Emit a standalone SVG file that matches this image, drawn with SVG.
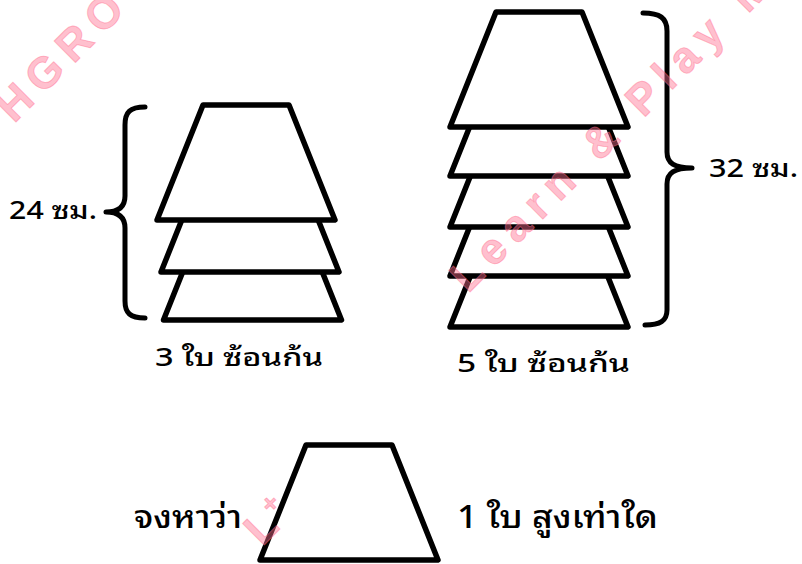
<svg xmlns="http://www.w3.org/2000/svg" width="802" height="564" viewBox="0 0 802 564">
<style>
.wm{fill:#ff6f8f;fill-opacity:0.45;stroke:#ff6f8f;stroke-opacity:0.45;stroke-width:1;font-family:"Liberation Sans",Arial,sans-serif;font-weight:bold;font-size:44px;letter-spacing:9px}
.cup{fill:#fff;stroke:#000;stroke-width:5.5;stroke-linejoin:round}
.brace{fill:none;stroke:#000;stroke-width:5;stroke-linecap:round;stroke-linejoin:round}
.lbl{fill:#000;font-family:"Noto Sans Thai Looped","Loma","Waree","Garuda","Umpush","Tlwg Typo","Noto Sans Thai","Noto Sans","DejaVu Sans",sans-serif;font-weight:500;font-size:25px}
.big{font-size:32px}
</style>
<defs>
<path id="cupShape" d="M-43,-115 L43,-115 L89,0 L-89,0 Z"/>
</defs>
<rect width="802" height="564" fill="#fff"/>
<g id="stack3">
<use href="#cupShape" class="cup" x="252.5" y="320"/>
<use href="#cupShape" class="cup" x="250" y="272"/>
<use href="#cupShape" class="cup" x="246" y="220"/>
</g>
<g id="stack5">
<use href="#cupShape" class="cup" x="539" y="327"/>
<use href="#cupShape" class="cup" x="539" y="276"/>
<use href="#cupShape" class="cup" x="539" y="227"/>
<use href="#cupShape" class="cup" x="539" y="176"/>
<use href="#cupShape" class="cup" x="539" y="127"/>
</g>
<g id="cup1">
<use href="#cupShape" class="cup" x="349" y="560"/>
</g>
<g id="connectors">
<path class="brace" d="M145,107 C130,107 125,112 125,125 L125,196 C125,207 118,212 106,212 C118,212 125,217 125,228 L125,301 C125,313 130,318 145,318"/>
<path class="brace" d="M643,13 C660,13 667,18 667,31 L667,152 C667,163 674,168 692,168 C674,168 667,173 667,184 L667,310 C667,321 660,325 645,325"/>
</g>
<g id="label24"><text class="lbl" x="9" y="219" textLength="88" lengthAdjust="spacingAndGlyphs">24  ซม.</text></g>
<g id="label32"><text class="lbl" x="709" y="177" textLength="89" lengthAdjust="spacingAndGlyphs">32  ซม.</text></g>
<g id="label3"><text class="lbl" x="155" y="366" textLength="168" lengthAdjust="spacingAndGlyphs">3 ใบ ซ้อนก้น</text></g>
<g id="label5"><text class="lbl" x="457" y="372" textLength="173" lengthAdjust="spacingAndGlyphs">5 ใบ ซ้อนก้น</text></g>
<g id="labelQ1"><text class="lbl big" x="134" y="528" textLength="108" lengthAdjust="spacingAndGlyphs">จงหาว่า</text></g>
<g id="labelQ2"><text class="lbl big" x="457" y="528" textLength="201" lengthAdjust="spacingAndGlyphs">1 ใบ สูงเท่าใด</text></g>
<g id="watermark">
<text class="wm" transform="translate(14,124) rotate(-45)">HGROUP</text>
<text class="wm" transform="translate(468,294) rotate(-45)">Learn &amp; Play M</text>
<text class="wm" transform="translate(262,547) rotate(-45)">L</text>
<text class="wm" style="font-size:26px;letter-spacing:0" transform="translate(271,515) rotate(-45)">+</text>
</g>
</svg>
